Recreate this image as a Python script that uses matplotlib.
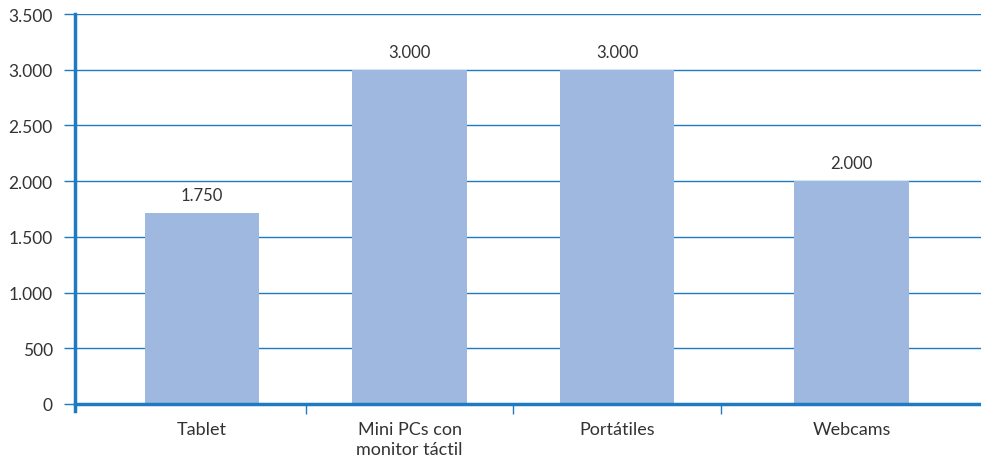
import numpy as np
import matplotlib.pyplot as plt
from matplotlib.ticker import FuncFormatter

# Data
categories = ['Tablet', 'Mini PCs con\nmonitor táctil', 'Portátiles', 'Webcams']
values = [1714, 3000, 3000, 2000]
value_labels = ['1.750', '3.000', '3.000', '2.000']
y_ticks = [0, 500, 1000, 1500, 2000, 2500, 3000, 3500]

blue = '#1f7bc1'
bar_color = '#9fb8df'
text_color = '#333333'

plt.rcParams['font.family'] = ['Lato', 'DejaVu Sans']

fig = plt.figure(figsize=(9.81, 4.64), dpi=100)
ax = fig.add_axes([75 / 981, 59 / 464, 906 / 981, 390 / 464])

# category positions (last group sits a little further right in the original)
x = np.array([0, 1, 2, 3.13])
bars = ax.bar(x, values, width=0.55, color=bar_color, zorder=2)

# Value labels above bars
for b, lab in zip(bars, value_labels):
    ax.annotate(lab, (b.get_x() + b.get_width() / 2, b.get_height()),
                xytext=(0, 7), textcoords='offset points',
                ha='center', va='bottom', fontsize=12, color=text_color)

# Axes and grid
ax.set_ylim(0, 3500)
ax.set_xlim(-0.612, 3.754)
ax.set_yticks(y_ticks)
ax.yaxis.set_major_formatter(FuncFormatter(lambda v, p: f'{int(v):,}'.replace(',', '.')))
ax.grid(axis='y', color=blue, linewidth=1, zorder=0)
ax.set_axisbelow(True)

ax.set_xticks(x)
ax.set_xticklabels(categories, linespacing=1.35)
ax.set_xticks([0.5, 1.5, 2.5], minor=True)
ax.tick_params(axis='x', which='major', length=0, pad=12, labelsize=13, labelcolor=text_color)
ax.tick_params(axis='x', which='minor', length=7, width=1, color=blue)
ax.tick_params(axis='y', length=8, width=1, color=blue, pad=8, labelsize=12.5, labelcolor=text_color)

for s in ['top', 'right']:
    ax.spines[s].set_visible(False)
for s in ['left', 'bottom']:
    ax.spines[s].set_color(blue)
    ax.spines[s].set_linewidth(2.5)
    ax.spines[s].set_zorder(3)
ax.spines['left'].set_bounds(-60, 3500)

plt.savefig('out.png', dpi=100)
